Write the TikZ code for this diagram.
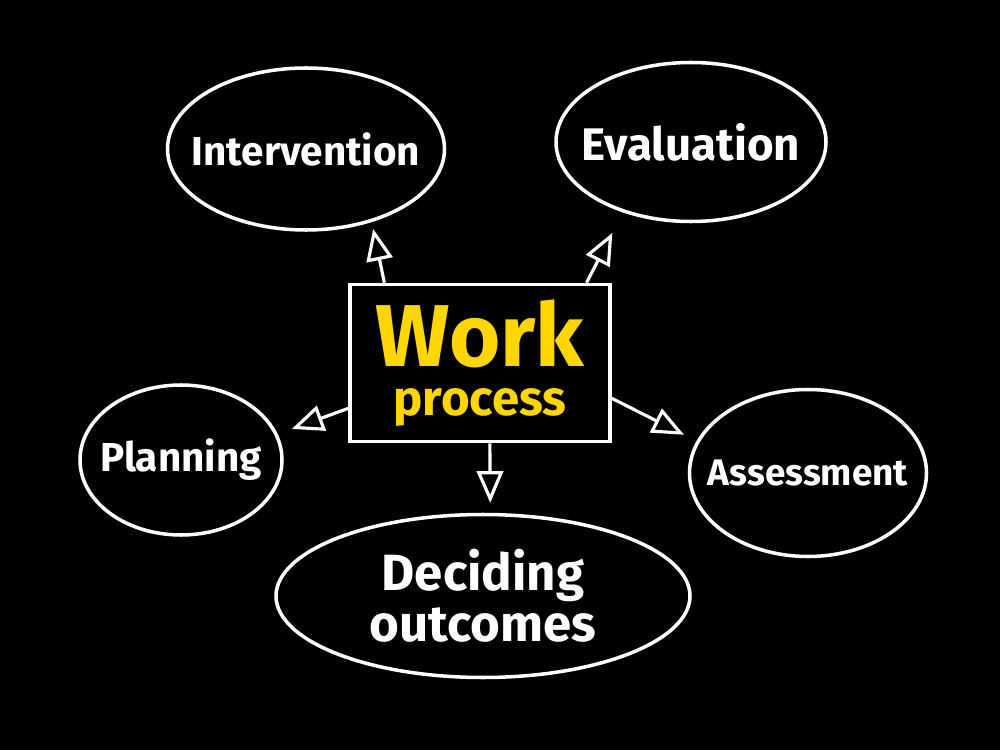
\documentclass[tikz,border=0pt]{standalone}
\usepackage{fontspec}
\setmainfont{Fira Sans}
\usetikzlibrary{shapes.geometric,arrows.meta}
\definecolor{chalkyellow}{RGB}{255,214,0}
\begin{document}
\begin{tikzpicture}[
	bubble/.style={draw=white,line width=2pt,ellipse,inner sep=0pt},
	txt/.style={text=white,inner sep=0pt},
	arr/.style={draw=white,line width=1.8pt,-{Triangle[open,length=18pt,width=15pt,fill=black]}}]
	\fill[black] (0,0) rectangle (20,15);
	\useasboundingbox (0,0) rectangle (20,15);
	% centre box
	\node[draw=white,line width=2pt,minimum width=5.2cm,minimum height=3.14cm,
		align=center,text=chalkyellow,font=\bfseries] (work) at (9.6,7.74)
		{\fontsize{50}{30}\selectfont Work\\[11pt]\fontsize{28}{30}\selectfont process};
	% ellipses
	\node[bubble,minimum width=5.54cm,minimum height=3.24cm,
		label={[txt,font=\fontsize{23}{26}\selectfont\bfseries]center:Intervention}] (interv) at (6.12,12.02) {};
	\node[bubble,minimum width=5.4cm,minimum height=3.18cm,
		label={[txt,font=\fontsize{26}{28}\selectfont\bfseries]center:Evaluation}] (eval) at (13.82,12.16) {};
	\node[bubble,minimum width=4.04cm,minimum height=3.0cm,
		label={[txt,font=\fontsize{23}{24}\selectfont\bfseries]center:Planning}] (plan) at (3.62,5.8) {};
	\node[bubble,minimum width=4.74cm,minimum height=3.34cm,
		label={[txt,font=\fontsize{21}{23}\selectfont\bfseries]center:Assessment}] (assess) at (16.16,5.54) {};
	\node[bubble,minimum width=8.28cm,minimum height=3.26cm,
		label={[txt,align=center,font=\fontsize{29}{29}\selectfont\bfseries]center:{Deciding\\outcomes}}] (decide) at (9.66,3.08) {};
	% arrows
	\draw[arr,shorten >=0.14cm] (work.140) -- (interv.-48);
	\draw[arr,shorten >=0.46cm] (work.37) -- (eval.-134);
	\draw[arr,shorten >=0.3cm] (work.199) -- (plan.15);
	\draw[arr,shorten >=0.28cm] (work.-15) -- (assess.164);
	\draw[arr,shorten >=0.2cm] (work.-83) -- (decide.85);
\end{tikzpicture}
\end{document}
